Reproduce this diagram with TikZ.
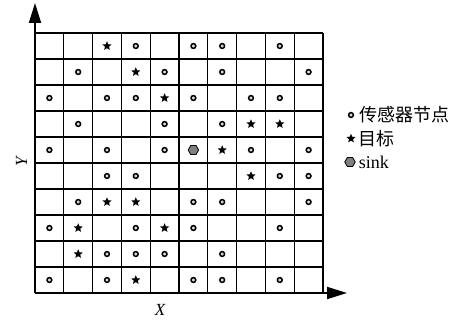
\documentclass[tikz,border=0pt]{standalone}
\usepackage{fontspec}
\setmainfont{Liberation Serif}
\newfontfamily\cjk{Noto Sans CJK SC}
\usetikzlibrary{shapes.geometric, arrows.meta, positioning}
\definecolor{sinkfill}{HTML}{7F7F7F}
\definecolor{dotfill}{HTML}{D8D8D8}
\tikzset{
  gridline/.style={
    line width=1.1pt,
    draw=black
  },
  axisarrow/.style={
    -{Triangle[length=20pt, width=12pt]},
    line width=1.8pt
  },
  sensor/.style={
    circle,
    draw=black,
    fill=dotfill,
    line width=1.5pt,
    inner sep=0pt,
    minimum size=4.8pt
  },
  target/.style={
    star,
    star points=5,
    star point ratio=2.2,
    fill=black,
    inner sep=0pt,
    minimum size=9.5pt
  },
  sinknode/.style={
    regular polygon,
    regular polygon sides=6,
    draw=black,
    fill=sinkfill,
    line width=0.8pt,
    inner sep=0pt,
    minimum size=10.5pt
  },
  legendtext/.style={
    font=\fontsize{18}{20}\selectfont,
    inner sep=0pt,
    anchor=west
  },
  axislabel/.style={
    font=\fontsize{17}{19}\selectfont\itshape,
    inner sep=0pt
  }
}

\begin{document}
\begin{tikzpicture}[x=1pt, y=-1pt]

  \useasboundingbox (0,0) rectangle (460,321);

  % Grid
  \foreach \i in {0,...,10} {
    \draw [gridline] ({35+\i*28.8},33) -- ({35+\i*28.8},293);
    \draw [gridline] (35,{33+\i*26}) -- (323,{33+\i*26});
  }

  % Axes
  \coordinate (origin) at (35,293);
  \coordinate (ytip) at (35,3);
  \coordinate (xtip) at (347,293);
  \draw [axisarrow] (origin) -- (ytip);
  \draw [axisarrow] (origin) -- (xtip);
  \node (xlabel) [axislabel] at (160,310) {X};
  \node (ylabel) [axislabel, rotate=90] at (21.5,162) {Y};

  % Sensor nodes
  \foreach \c/\r in {4/1, 6/1, 7/1, 9/1,
                     2/2, 5/2, 7/2, 10/2,
                     1/3, 3/3, 4/3, 6/3, 8/3, 9/3,
                     2/4, 5/4, 7/4,
                     1/5, 3/5, 5/5, 8/5, 10/5,
                     3/6, 4/6, 9/6, 10/6,
                     2/7, 6/7, 7/7, 10/7,
                     1/8, 4/8, 6/8, 9/8,
                     3/9, 4/9, 5/9, 7/9,
                     1/10, 3/10, 6/10, 7/10, 9/10}
    \node (s\c-\r) [sensor] at ({35+(\c-0.5)*28.8},{33+(\r-0.5)*26}) {};

  % Targets
  \foreach \c/\r in {3/1, 4/2, 5/3, 8/4, 9/4, 7/5, 8/6,
                     3/7, 4/7, 2/8, 5/8, 2/9, 4/10}
    \node (t\c-\r) [target] at ({35+(\c-0.5)*28.8},{33+(\r-0.5)*26}) {};

  % Sink
  \node (sink) [sinknode] at ({35+5.5*28.8},{33+4.5*26}) {};

  % Legend
  \node (legsensor) [sensor] at (351,115) {};
  \node (legsensortext) [legendtext, right=5pt of legsensor] {\cjk 传感器节点};
  \node (legtarget) [target] at (351,138.5) {};
  \node (legtargettext) [legendtext, right=4pt of legtarget] {\cjk 目标};
  \node (legsink) [sinknode] at (350,162) {};
  \node (legsinktext) [legendtext, right=3pt of legsink] {sink};

\end{tikzpicture}
\end{document}
